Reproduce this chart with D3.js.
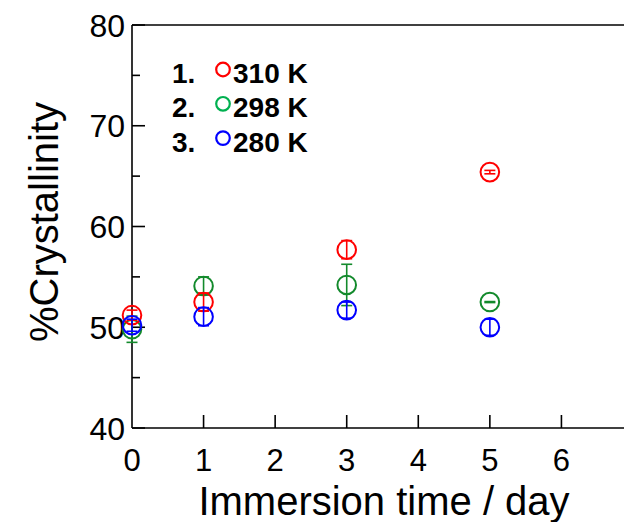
<!DOCTYPE html>
<html>
<head>
<meta charset="utf-8">
<script src="https://cdn.jsdelivr.net/npm/d3@7"></script>
<style>
  html, body { margin: 0; padding: 0; background: #fff; }
  svg { display: block; font-family: "Liberation Sans", Arial, sans-serif; }
</style>
</head>
<body>
<svg id="chart" width="624" height="522"></svg>
<script>
// ---- data ----
const days = [0, 1, 3, 5];
const seriesNames = ["310 K", "298 K", "280 K"];
const values310 = [51.2, 52.5, 57.7, 65.4];
const errors310 = [0.5, 0.9, 0.9, 0.17];
const values298 = [49.8, 54.1, 54.2, 52.5];
const errors298 = [1.3, 0.9, 2.05, 0.05];
const values280 = [50.2, 51.05, 51.7, 50.0];
const errors280 = [0.6, 0.9, 0.8, 0.8];
const xTicks = [0, 1, 2, 3, 4, 5, 6];
const yTicks = [40, 50, 60, 70, 80];
const yMinorTicks = [45, 55, 65, 75];

const markerColors = ["#ff0000", "#138a2c", "#0000ff"];
const legendColors = ["#ff0000", "#00b050", "#0000ff"];

const series = [
  { name: seriesNames[1], vals: values298, errs: errors298, color: markerColors[1] },
  { name: seriesNames[0], vals: values310, errs: errors310, color: markerColors[0] },
  { name: seriesNames[2], vals: values280, errs: errors280, color: markerColors[2] }
];

const svg = d3.select("#chart");
const x = d3.scaleLinear().domain([0, 7]).range([132, 633]);
const y = d3.scaleLinear().domain([40, 80]).range([428, 25]);

// axes frame
const axisG = svg.append("g").attr("stroke", "#000").attr("stroke-width", 1.6).attr("fill", "none");
axisG.append("line").attr("x1", x(0)).attr("x2", 624).attr("y1", y(40)).attr("y2", y(40));
axisG.append("line").attr("x1", x(0)).attr("x2", 624).attr("y1", y(80)).attr("y2", y(80));
axisG.append("line").attr("x1", x(0)).attr("x2", x(0)).attr("y1", y(40)).attr("y2", y(80));

// y ticks (inward)
axisG.selectAll(".ymaj").data(yTicks).enter().append("line")
  .attr("x1", x(0)).attr("x2", x(0) + 13).attr("y1", d => y(d)).attr("y2", d => y(d));
axisG.selectAll(".ymin").data(yMinorTicks).enter().append("line")
  .attr("x1", x(0)).attr("x2", x(0) + 8).attr("y1", d => y(d)).attr("y2", d => y(d));
// x ticks (inward)
axisG.selectAll(".xmaj").data(xTicks.filter(d => d > 0)).enter().append("line")
  .attr("x1", d => x(d)).attr("x2", d => x(d)).attr("y1", y(40)).attr("y2", y(40) - 13);

// tick labels
svg.selectAll(".ylab").data(yTicks).enter().append("text")
  .attr("x", 125).attr("y", d => y(d) + 11.5)
  .attr("text-anchor", "end").attr("font-size", 32).text(d => d);
svg.selectAll(".xlab").data(xTicks).enter().append("text")
  .attr("x", d => x(d)).attr("y", 471)
  .attr("text-anchor", "middle").attr("font-size", 31).text(d => d);

// axis titles
svg.append("text").attr("x", 384).attr("y", 515).attr("text-anchor", "middle")
  .attr("font-size", 40).text("Immersion time / day");
svg.append("text").attr("transform", "translate(58,222) rotate(-90)").attr("text-anchor", "middle")
  .attr("font-size", 40).text("%Crystallinity");

// data
const capW = 5.5;
series.forEach(s => {
  const g = svg.append("g").attr("stroke", s.color).attr("fill", "none");
  const pts = days.map((d, i) => ({ d, v: s.vals[i], e: s.errs[i] }));
  g.selectAll(".eb").data(pts).enter().append("line")
    .attr("x1", p => x(p.d)).attr("x2", p => x(p.d))
    .attr("y1", p => y(p.v + p.e)).attr("y2", p => y(p.v - p.e)).attr("stroke-width", 1.6);
  g.selectAll(".capt").data(pts).enter().append("line")
    .attr("x1", p => x(p.d) - capW).attr("x2", p => x(p.d) + capW)
    .attr("y1", p => y(p.v + p.e)).attr("y2", p => y(p.v + p.e)).attr("stroke-width", 1.6);
  g.selectAll(".capb").data(pts).enter().append("line")
    .attr("x1", p => x(p.d) - capW).attr("x2", p => x(p.d) + capW)
    .attr("y1", p => y(p.v - p.e)).attr("y2", p => y(p.v - p.e)).attr("stroke-width", 1.6);
  g.selectAll("circle").data(pts).enter().append("circle")
    .attr("cx", p => x(p.d)).attr("cy", p => y(p.v)).attr("r", 9.3).attr("stroke-width", 2);
});

// legend
const legend = svg.append("g");
seriesNames.forEach((n, i) => {
  const by = 83 + i * 34.3;
  legend.append("text").attr("x", 172).attr("y", by).attr("font-size", 28).attr("font-weight", "bold")
    .text((i + 1) + ".");
  legend.append("circle").attr("cx", 223).attr("cy", by - 13.5).attr("r", 6.8)
    .attr("fill", "none").attr("stroke", legendColors[i]).attr("stroke-width", 2.2);
  legend.append("text").attr("x", 233).attr("y", by).attr("font-size", 28).attr("font-weight", "bold")
    .text(n);
});
</script>
</body>
</html>
